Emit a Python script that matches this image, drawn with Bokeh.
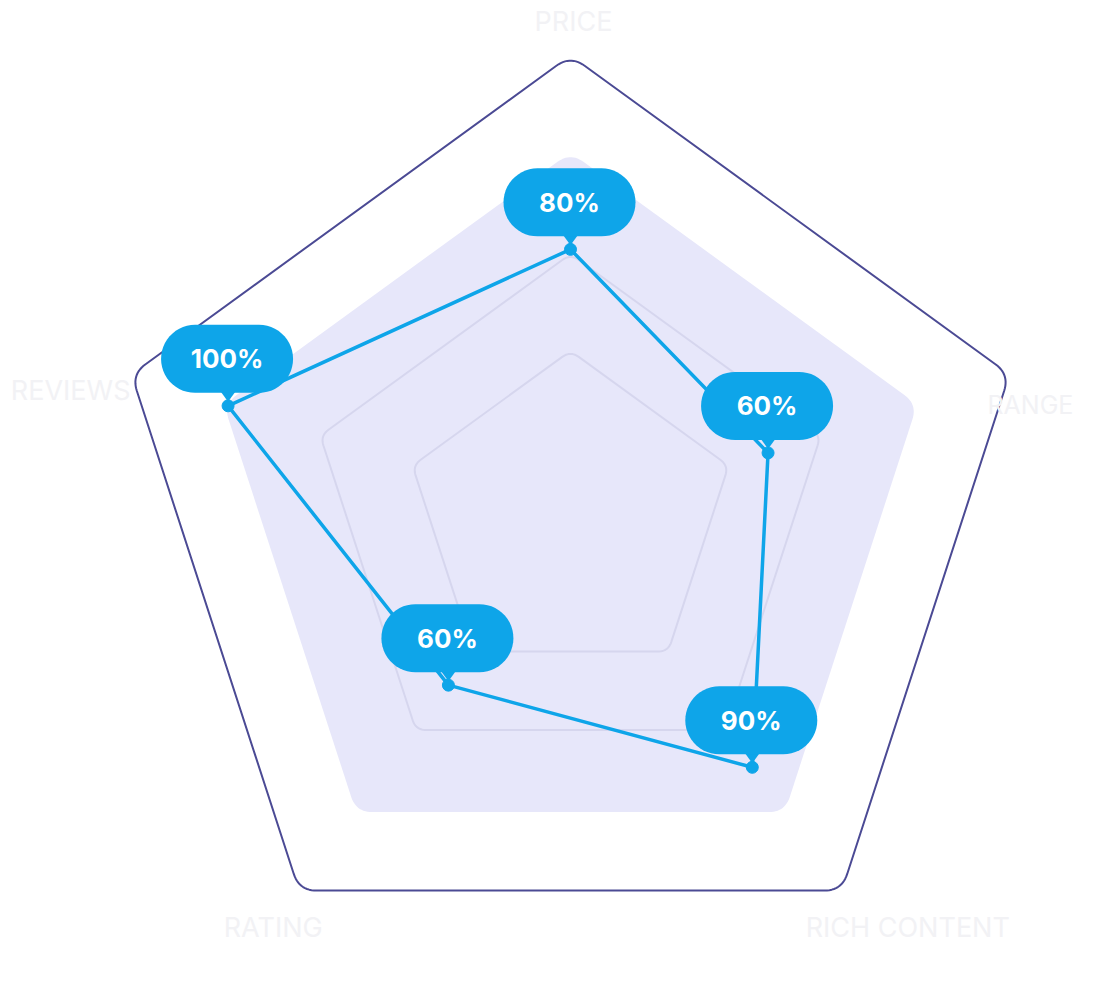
import numpy as np
from bokeh.plotting import figure
from bokeh.models import Range1d
from bokeh.core.properties import value
from bokeh.embed import file_html
from bokeh.resources import INLINE

# ---- data ----
categories = ["PRICE", "RANGE", "RICH CONTENT", "RATING", "REVIEWS"]
value_labels = ["80%", "60%", "90%", "60%", "100%"]
scores = [58, 45, 67, 45, 78]          # plotted position on the 0-100 radial scale
grid_levels = [36, 57]
band_level = 79
outer_level = 100

# ---- layout / style ----
R_OUT = 461.6                            # pixels for 100 on the radial scale
angles = np.deg2rad(90 - 72 * np.arange(5))
SERIES = "#0ea5e9"

def pts(level):
    r = level / 100.0 * R_OUT
    return r * np.cos(angles), r * np.sin(angles)

def rounded_poly(xs, ys, rc, n=14):
    out_x, out_y = [], []
    k = len(xs)
    for i in range(k):
        V = np.array([xs[i], ys[i]])
        P = np.array([xs[i - 1], ys[i - 1]])
        N = np.array([xs[(i + 1) % k], ys[(i + 1) % k]])
        up = (P - V) / np.linalg.norm(P - V)
        un = (N - V) / np.linalg.norm(N - V)
        ang = np.arccos(np.clip(np.dot(up, un), -1, 1))
        d = rc / np.tan(ang / 2)
        A = V + up * d
        B = V + un * d
        for t in np.linspace(0, 1, n):
            q = (1 - t) ** 2 * A + 2 * (1 - t) * t * V + t ** 2 * B
            out_x.append(q[0]); out_y.append(q[1])
    return out_x, out_y

def stadium(cx, cy, w, h, r, n=14):
    xs, ys = [], []
    corners = [(cx + w / 2 - r, cy + h / 2 - r, 0), (cx - w / 2 + r, cy + h / 2 - r, 90),
               (cx - w / 2 + r, cy - h / 2 + r, 180), (cx + w / 2 - r, cy - h / 2 + r, 270)]
    for ccx, ccy, a0 in corners:
        for a in np.deg2rad(np.linspace(a0, a0 + 90, n)):
            xs.append(ccx + r * np.cos(a)); ys.append(ccy + r * np.sin(a))
    return xs, ys

p = figure(width=1082, height=966, x_range=Range1d(-570, 512), y_range=Range1d(-449.4, 516.6),
           output_backend="svg", toolbar_location=None, min_border=0,
           x_axis_type=None, y_axis_type=None)
p.grid.visible = False
p.outline_line_color = None
p.background_fill_color = "white"
p.border_fill_color = "white"

# band
bx, by = rounded_poly(*pts(band_level), 22)
p.patch(bx, by, fill_color="#e7e7fa", line_color=None)

# grid rings
for lv in grid_levels:
    gx, gy = rounded_poly(*pts(lv), 14)
    p.line(gx + gx[:1], gy + gy[:1], line_color="#d6d6ee", line_width=2)

# outer ring
ox, oy = rounded_poly(*pts(outer_level), 24)
p.line(ox + ox[:1], oy + oy[:1], line_color="#4b4a94", line_width=2)

# series
sx, sy = pts(np.array(scores, dtype=float))
p.line(list(sx) + [sx[0]], list(sy) + [sy[0]], line_color=SERIES, line_width=3.5)
p.scatter(sx, sy, size=12, fill_color=SERIES, line_color=SERIES)

# value label bubbles
bxs, bys, txs, tys, cxs, cys = [], [], [], [], [], []
for x, y in zip(sx, sy):
    cx, cy = x - 1, y + 47
    xs_, ys_ = stadium(cx, cy, 132, 68, 34)
    bxs.append(xs_); bys.append(ys_)
    txs.append([x - 8, x + 8, x]); tys.append([y + 15, y + 15, y + 4])
    cxs.append(cx); cys.append(cy)
p.patches(txs, tys, fill_color=SERIES, line_color=None)
p.patches(bxs, bys, fill_color=SERIES, line_color=None)
p.text(cxs, cys, text=value_labels, text_color="white", text_font=value("Inter"),
       text_font_style="bold", text_font_size="26px", text_align="center", text_baseline="middle")

# category labels
vx, vy = pts(outer_level)
offs = [(3, 34, "center", 27), (-22, -31, "left", 25), (66, -37, "center", 27),
        (-26, -37, "center", 27), (-1, -16, "right", 27)]
for cat, x, y, (dx, dy, al, fs) in zip(categories, vx, vy, offs):
    p.text([x + dx], [y + dy], text=[cat], text_color="#f2f2f5", text_font=value("Inter"),
           text_font_size=f"{fs}px", text_align=al, text_baseline="middle")

open("out.html", "w").write(file_html(p, INLINE))
